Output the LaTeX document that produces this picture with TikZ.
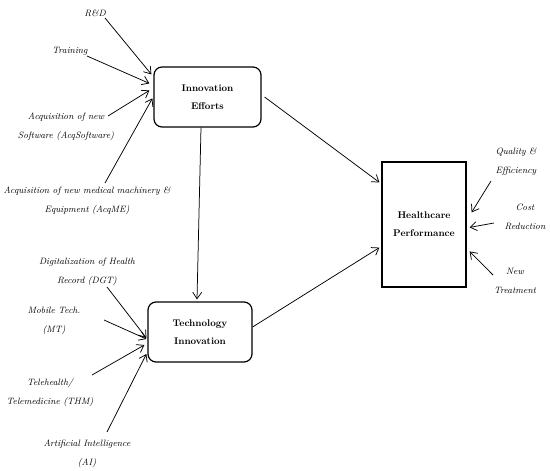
\documentclass[tikz,border=0pt]{standalone}
\usetikzlibrary{arrows.meta}
\begin{document}
\begin{tikzpicture}[x=1pt,y=-1pt,
  box/.style={draw,line width=1.2pt,minimum width=#1,align=center,font=\fontsize{9.7}{18}\selectfont\bfseries,inner sep=0pt},
  lbl/.style={align=center,font=\fontsize{9.2}{19}\selectfont\itshape,inner sep=0pt},
  arr/.style={line width=0.75pt,-{Straight Barb[length=6.5pt,width=9pt,line width=0.75pt]}}]
\useasboundingbox (0,0) rectangle (550,471);
% boxes
\node[box=107pt,minimum height=60pt,rounded corners=8pt] (ie) at (207.5,97) {Innovation\\Efforts};
\node[box=104pt,minimum height=60pt,rounded corners=8pt] (ti) at (200,332) {Technology\\Innovation};
\node[box=84pt,minimum height=125pt] (hp) at (424,224.5) {Healthcare\\Performance};
% labels
\node[lbl] (rd) at (95,13) {R\&D};
\node[lbl] (tr) at (70,51) {Training};
\node[lbl] (sw) at (66,126.5) {Acquisition of new\\Software (AcqSoftware)};
\node[lbl] (me) at (87,201) {Acquisition of new medical machinery \&\\Equipment (AcqME)};
\node[lbl] (dg) at (87,272) {Digitalization of Health\\Record (DGT)};
\node[lbl] (mt) at (54,320.5) {Mobile Tech.\\(MT)};
\node[lbl] (th) at (50,393) {Telehealth/\\Telemedicine (THM)};
\node[lbl] (ai) at (87,453.5) {Artificial Intelligence\\(AI)};
\node[lbl] (qe) at (516,161.5) {Quality \&\\Efficiency};
\node[lbl] (cr) at (525,216.5) {Cost\\Reduction};
\node[lbl] (nt) at (515,281) {New\\Treatment};
% free ends near labels
\coordinate (rdS) at (105,18);
\coordinate (trS) at (87,56);
\coordinate (swS) at (108,116);
\coordinate (meS) at (105,183);
\coordinate (dgS) at (107,287);
\coordinate (mtS) at (104,320);
\coordinate (thS) at (92,375);
\coordinate (aiS) at (107,432);
\coordinate (qeS) at (491,181);
\coordinate (crS) at (494,223);
\coordinate (ntS) at (493,275);
% connectors
\draw[arr] (rdS) -- ([xshift=-2pt,yshift=-8pt]ie.north west);
\draw[arr] (trS) -- ([xshift=-4pt,yshift=-17pt]ie.north west);
\draw[arr] (swS) -- ([xshift=-4pt,yshift=-24pt]ie.north west);
\draw[arr] (meS) -- ([xshift=-1pt,yshift=-32pt]ie.north west);
\draw[arr] ([xshift=-6.5pt]ie.south) -- ([xshift=-3pt,yshift=2pt]ti.north);
\draw[arr] ([xshift=3pt]ie.east) -- ([xshift=-2pt,yshift=-21pt]hp.north west);
\draw[arr] ([yshift=5pt]ti.east) -- ([xshift=-2pt,yshift=40pt]hp.south west);
\draw[arr] (dgS) -- ([xshift=-1pt,yshift=-6pt]ti.west);
\draw[arr] (mtS) -- ([xshift=-1pt,yshift=-7pt]ti.west);
\draw[arr] (thS) -- ([xshift=-3pt,yshift=-13pt]ti.west);
\draw[arr] (aiS) -- ([xshift=-1pt,yshift=-22pt]ti.west);
\draw[arr] (qeS) -- ([xshift=5pt,yshift=-51pt]hp.north east);
\draw[arr] (crS) -- ([xshift=3pt,yshift=-66pt]hp.north east);
\draw[arr] (ntS) -- ([xshift=3pt,yshift=-90pt]hp.north east);
\end{tikzpicture}
\end{document}
